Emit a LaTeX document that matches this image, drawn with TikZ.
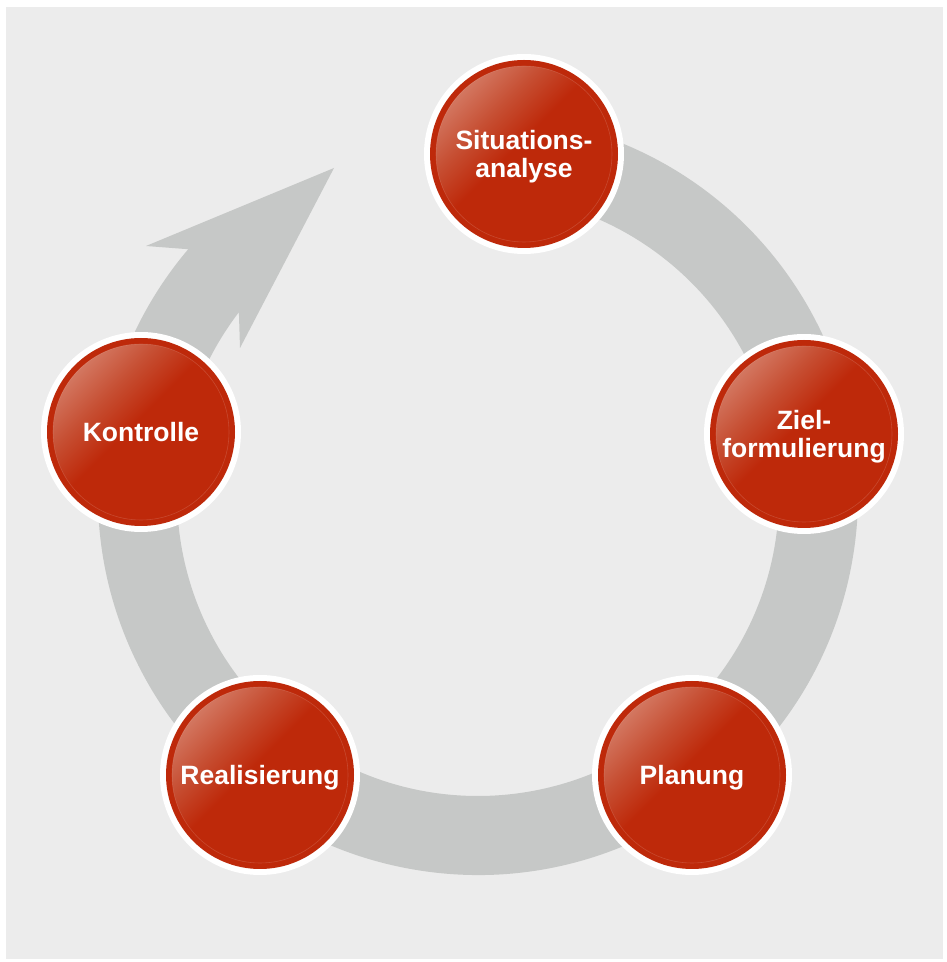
\documentclass[tikz,border=0pt]{standalone}
\usepackage{fontspec}
\setmainfont{Liberation Sans}
\usetikzlibrary{calc}
\definecolor{bg}{RGB}{236,236,236}
\definecolor{ringgray}{RGB}{198,200,199}
\definecolor{cred}{RGB}{190,41,10}
\definecolor{cmid}{RGB}{198,78,50}
\definecolor{clight}{RGB}{212,122,100}
\pgfdeclareverticalshading{gloss}{100bp}{color(0bp)=(cred); color(53bp)=(cred); color(64bp)=(cmid); color(76bp)=(clight); color(100bp)=(clight)}
\begin{document}
\begin{tikzpicture}[x=1pt,y=1pt,
  stepcircle/.style={circle, fill=white, minimum size=200pt, inner sep=0pt,
    text=white, align=center, font=\fontsize{26.5}{28}\selectfont\bfseries,
    text depth=0pt,
    path picture={
      \fill[cred] (path picture bounding box.center) circle (94pt);
      \shade[shading=gloss, shading angle=45] (path picture bounding box.center) circle (88pt);
      \draw[white, opacity=0.15, line width=0.6pt] (path picture bounding box.center) circle (88pt);
    }}]
\useasboundingbox (0,0) rectangle (947,962);
\fill[bg] (6,3) rectangle (943,955);
\coordinate (C) at (478,467);
\coordinate (barbL) at (146,716);
\coordinate (tip) at (334,794);
\coordinate (barbB) at (240,614);
\fill[ringgray] ($(C)+(80:380)$) arc[start angle=80, end angle=-220.3, radius=380]
  -- (barbL) -- (tip) -- (barbB) -- ($(C)+(142.6:301)$)
  arc[start angle=142.6, end angle=440, radius=301] -- cycle;
\node[stepcircle] (sit) at (524,808) {Situations-\\analyse};
\node[stepcircle] (ziel) at (804,528) {Ziel-\\formulierung};
\node[stepcircle] (plan) at (692,187) {Planung};
\node[stepcircle] (real) at (260,187) {Realisierung};
\node[stepcircle] (kon) at (141,530) {Kontrolle};
\end{tikzpicture}
\end{document}
